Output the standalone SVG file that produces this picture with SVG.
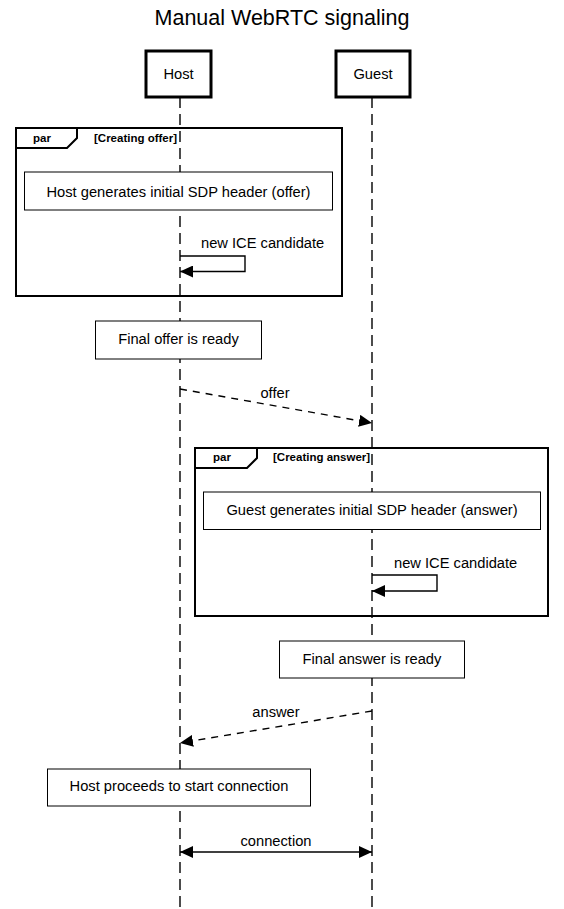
<svg xmlns="http://www.w3.org/2000/svg" width="564" height="909" viewBox="0 0 564 909">
<style>
text{font-family:"Liberation Sans",Arial,sans-serif;fill:#000}
.t{font-size:21.5px}
.l{font-size:14.7px}
.p{font-size:11.5px;font-weight:bold}
.actor{fill:#fff;stroke:#000;stroke-width:3}
.note{fill:#fff;stroke:#000;stroke-width:1}
.frame{fill:none;stroke:#000;stroke-width:2}
.life{stroke:#000;stroke-width:1.4;stroke-dasharray:11 6;fill:none}
.msg{stroke:#000;stroke-width:1.4;fill:none}
.dash{stroke-dasharray:7 6}
</style>
<defs>
<marker id="ah" viewBox="0 0 13 12" refX="13" refY="6" markerWidth="13" markerHeight="12" markerUnits="userSpaceOnUse" orient="auto">
<path d="M0,0 L13,6 L0,12 Z" fill="#000"/>
</marker>
<marker id="as" viewBox="0 0 13 12" refX="0" refY="6" markerWidth="13" markerHeight="12" markerUnits="userSpaceOnUse" orient="auto">
<path d="M13,0 L0,6 L13,12 Z" fill="#000"/>
</marker>
</defs>
<rect width="564" height="909" fill="#fff"/>
<text class="t" x="282" y="25" text-anchor="middle">Manual WebRTC signaling</text>
<g id="lifelines">
<line class="life" x1="180" y1="97" x2="180" y2="909"/>
<line class="life" x1="372" y1="97" x2="372" y2="909"/>
</g>
<g id="host">
<rect class="actor" x="146" y="51" width="65" height="46"/>
<text class="l" x="178.5" y="79" text-anchor="middle">Host</text>
</g>
<g id="guest">
<rect class="actor" x="336" y="51" width="74" height="46"/>
<text class="l" x="373" y="79" text-anchor="middle">Guest</text>
</g>
<g id="par-offer">
<rect class="frame" x="16" y="128" width="326" height="168"/>
<path class="frame" d="M16,148 L67,148 L77,138 L77,128"/>
<text class="p" x="33" y="142">par</text>
<text class="p" x="94" y="142">[Creating offer]</text>
</g>
<g id="note-offer">
<rect class="note" x="24.5" y="172" width="308" height="38"/>
<text class="l" x="178.5" y="197" text-anchor="middle">Host generates initial SDP header (offer)</text>
</g>
<g id="final-offer">
<rect class="note" x="95.5" y="321" width="166" height="38"/>
<text class="l" x="178.5" y="344" text-anchor="middle">Final offer is ready</text>
</g>
<g id="par-answer">
<rect class="frame" x="195" y="448" width="353" height="168"/>
<path class="frame" d="M195,468 L247,468 L257,458 L257,448"/>
<text class="p" x="213" y="461">par</text>
<text class="p" x="273" y="461">[Creating answer]</text>
</g>
<g id="note-answer">
<rect class="note" x="203.5" y="492" width="337" height="37.5"/>
<text class="l" x="372" y="515" text-anchor="middle">Guest generates initial SDP header (answer)</text>
</g>
<g id="final-answer">
<rect class="note" x="279.5" y="641" width="185" height="37"/>
<text class="l" x="372" y="664" text-anchor="middle">Final answer is ready</text>
</g>
<g id="host-proceeds">
<rect class="note" x="47.5" y="769" width="263" height="37"/>
<text class="l" x="179" y="791" text-anchor="middle">Host proceeds to start connection</text>
</g>
<g id="connectors">
<path class="msg" d="M180,256 L245,256 L245,271.5 L180,271.5" marker-end="url(#ah)"/>
<text class="l" x="201" y="248">new ICE candidate</text>
<line class="msg dash" x1="180" y1="389" x2="372" y2="423" marker-end="url(#ah)"/>
<text class="l" x="275" y="398" text-anchor="middle">offer</text>
<path class="msg" d="M372,575 L437,575 L437,591 L372,591" marker-end="url(#ah)"/>
<text class="l" x="394" y="568">new ICE candidate</text>
<line class="msg dash" x1="372" y1="711" x2="180" y2="743" marker-end="url(#ah)"/>
<text class="l" x="276" y="717" text-anchor="middle">answer</text>
<line class="msg" x1="180" y1="852" x2="372" y2="852" marker-start="url(#as)" marker-end="url(#ah)"/>
<text class="l" x="276" y="846" text-anchor="middle">connection</text>
</g>
</svg>
